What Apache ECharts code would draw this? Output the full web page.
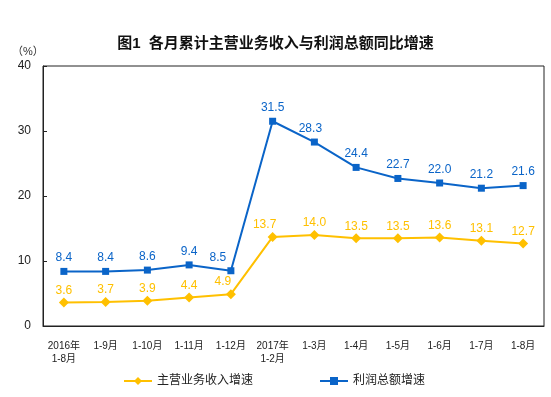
<!DOCTYPE html>
<html><head><meta charset="utf-8">
<script src="https://cdn.jsdelivr.net/npm/echarts@6/dist/echarts.min.js"></script>
<style>html,body{margin:0;padding:0;background:#fff}#c{width:551px;height:397px}</style>
</head><body><div id="c"></div>
<script>
const categories = ['2016年\n1-8月','1-9月','1-10月','1-11月','1-12月','2017年\n1-2月','1-3月','1-4月','1-5月','1-6月','1-7月','1-8月'];
const revenueGrowth = [3.6,3.7,3.9,4.4,4.9,13.7,14.0,13.5,13.5,13.6,13.1,12.7];
const profitGrowth = [8.4,8.4,8.6,9.4,8.5,31.5,28.3,24.4,22.7,22.0,21.2,21.6];
const yTicks = [0,10,20,30,40];

const font = '"Liberation Sans", Arial, "Noto Sans CJK SC", sans-serif';
// label nudges (layout only) keyed by category index
const revShift = {4:[-8,0], 5:[-8,0]};
const profShift = {4:[-13,0], 6:[-4,0]};
function withShift(values, shift){
  return values.map((v,i)=> shift[i] ? {value:v, label:{offset:shift[i]}} : v);
}
const fmt = p => Number(p.value).toFixed(1);

const chart = echarts.init(document.getElementById('c'), null, {renderer:'canvas'});
chart.setOption({
  animation:false,
  backgroundColor:'#fff',
  textStyle:{fontFamily:font},
  title:{
    text:'图1  各月累计主营业务收入与利润总额同比增速',
    left:'center', top:31,
    textStyle:{fontSize:15, fontWeight:'bold', color:'#111', fontFamily:font}
  },
  graphic:[{type:'text', left:12, top:46, style:{text:'（%）', fontSize:11, fill:'#333', fontFamily:font}}],
  legend:{
    left:118, bottom:5, itemGap:66, itemWidth:28, itemHeight:10,
    textStyle:{fontSize:12, color:'#222', fontFamily:font},
    data:['主营业务收入增速','利润总额增速']
  },
  grid:{left:43, right:7, top:66, bottom:71, show:true, borderColor:'#222', borderWidth:1},
  xAxis:{
    type:'category', data:categories, boundaryGap:true,
    axisLine:{lineStyle:{color:'#222'}},
    axisTick:{inside:true, length:4, lineStyle:{color:'#222'}},
    axisLabel:{fontSize:10, color:'#222', margin:14, interval:0, lineHeight:13, fontFamily:font}
  },
  yAxis:{
    type:'value', min:yTicks[0], max:yTicks[yTicks.length-1], interval:10,
    splitLine:{show:false},
    axisLine:{show:true, lineStyle:{color:'#222'}},
    axisTick:{show:true, inside:true, length:4, lineStyle:{color:'#222'}},
    axisLabel:{fontSize:12, color:'#222', margin:12, fontFamily:font}
  },
  series:[
    {
      name:'主营业务收入增速', type:'line', data:withShift(revenueGrowth, revShift),
      symbol:'diamond', symbolSize:10, color:'#FFC000',
      lineStyle:{width:2, color:'#FFC000'},
      itemStyle:{color:'#FFC000'},
      label:{show:true, position:'top', distance:1, color:'#FFC000', fontSize:12, fontFamily:font, formatter:fmt}
    },
    {
      name:'利润总额增速', type:'line', data:withShift(profitGrowth, profShift),
      symbol:'rect', symbolSize:7, color:'#0A64C8',
      lineStyle:{width:2, color:'#0A64C8'},
      itemStyle:{color:'#0A64C8'},
      label:{show:true, position:'top', distance:4, color:'#0A64C8', fontSize:12, fontFamily:font, formatter:fmt}
    }
  ]
});
</script></body></html>
